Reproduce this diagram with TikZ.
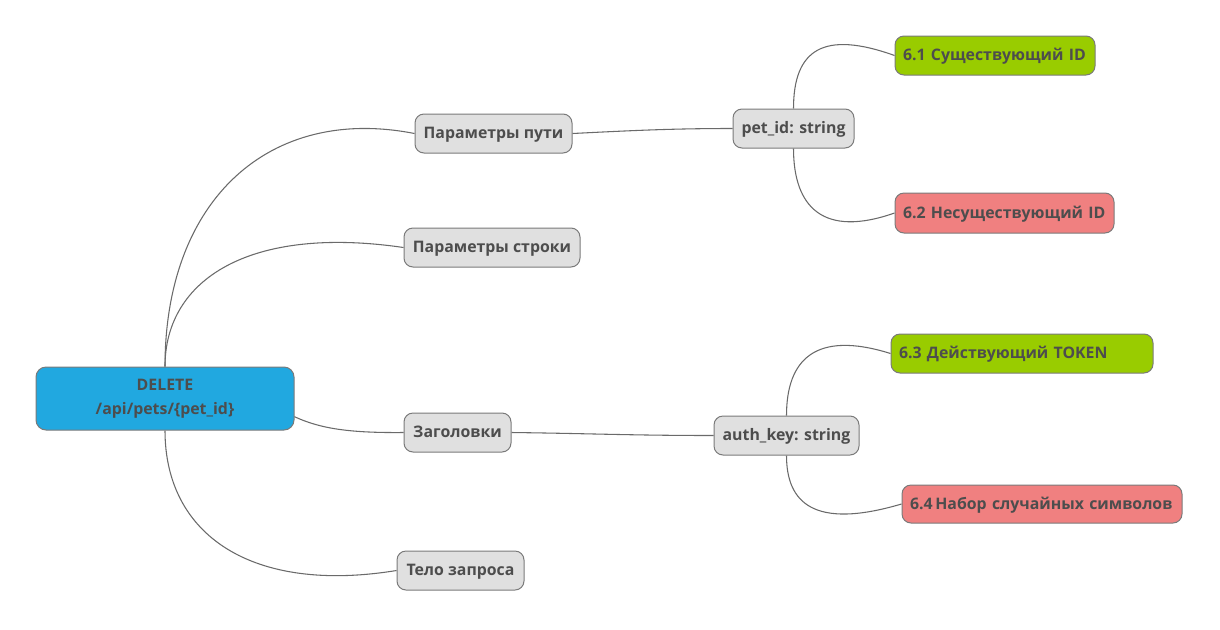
\documentclass[tikz,border=0pt]{standalone}
\usepackage{fontspec}
\newfontfamily\mapfont{Open Sans}
\usetikzlibrary{positioning}
\definecolor{clrtopic}{HTML}{E0E0E0}
\definecolor{clrroot}{HTML}{21A8E0}
\definecolor{clrvalid}{HTML}{99CC00}
\definecolor{clrinvalid}{HTML}{F08080}
\definecolor{clrborder}{HTML}{7A7A7A}
\definecolor{clrline}{HTML}{6A6A6A}
\definecolor{clrtext}{HTML}{4D4D4D}

\begin{document}
\begin{tikzpicture}[
    x=0.75pt, y=-0.75pt,
    every node/.style={font=\mapfont\bfseries\fontsize{11.9}{18}\selectfont, text=clrtext},
    box/.style={draw=clrborder, rounded corners=6.75pt, line width=0.75pt, inner sep=0pt},
    topic/.style={box, fill=clrtopic, minimum height=29.25pt, text height=10pt, text depth=1.8pt},
    root/.style={box, fill=clrroot, rounded corners=7.5pt, minimum width=193.5pt,
                 minimum height=47.25pt, align=center},
    leaf/.style={topic, inner xsep=6pt, align=left},
    branch/.style={draw=clrline, line width=0.8pt},
]
\useasboundingbox (0,0) rectangle (1220,629);
\node[root] (n_root) at (165,398.5) {DELETE\\/api/pets/\{pet\_id\}};
\node[topic, minimum width=117.75pt] (n_path) at (493.5,133.5) {Параметры пути};
\node[topic, minimum width=132pt] (n_query) at (492,247.5) {Параметры строки};
\node[topic, minimum width=80.25pt] (n_head) at (457.5,432.5) {Заголовки};
\node[topic, minimum width=95.25pt] (n_body) at (460.5,570.5) {Тело запроса};
\node[topic, minimum width=90.75pt] (n_petid) at (793.5,128.5) {pet\_id: string};
\node[topic, minimum width=108.75pt] (n_auth) at (786.5,435.5) {auth\_key: string};
\node[leaf, fill=clrvalid, text width=138pt] (n_61) at (995,55.5) {6.1 Существующий ID};
\node[leaf, fill=clrinvalid, text width=152.25pt, minimum height=30pt] (n_62) at (1004.5,213) {6.2 Несуществующий ID};
\node[leaf, fill=clrvalid, text width=184.5pt] (n_63) at (1022,353.5) {6.3 Действующий TOKEN};
\node[leaf, fill=clrinvalid, text width=198pt, minimum height=28.5pt] (n_64) at (1042,504) {6.4\,Набор случайных символов};
\draw[branch] (n_root.north) .. controls +(0,-167) and +(-145,-28.5) .. (n_path.west);
\draw[branch] (n_root.north) .. controls +(0,-87) and +(-154,-22.5) .. (n_query.west);
\draw[branch] (n_root.-8.6) .. controls +(26,12) and +(-54,0.5) .. (n_head.west);
\draw[branch] (n_root.south) .. controls +(0,105) and +(-144,23.5) .. (n_body.west);
\draw[branch] (n_path.east) .. controls +(60,-3) and +(-60,0) .. (n_petid.west);
\draw[branch] (n_petid.north) .. controls +(0,-59) and +(-71,-25.5) .. (n_61.west);
\draw[branch] (n_petid.south) .. controls +(0,59) and +(-71,25) .. (n_62.west);
\draw[branch] (n_head.east) .. controls +(80,1) and +(-80,0) .. (n_auth.west);
\draw[branch] (n_auth.north) .. controls +(0,-56) and +(-75,-23.5) .. (n_63.west);
\draw[branch] (n_auth.south) .. controls +(0,47) and +(-88,26) .. (n_64.west);
\end{tikzpicture}
\end{document}
